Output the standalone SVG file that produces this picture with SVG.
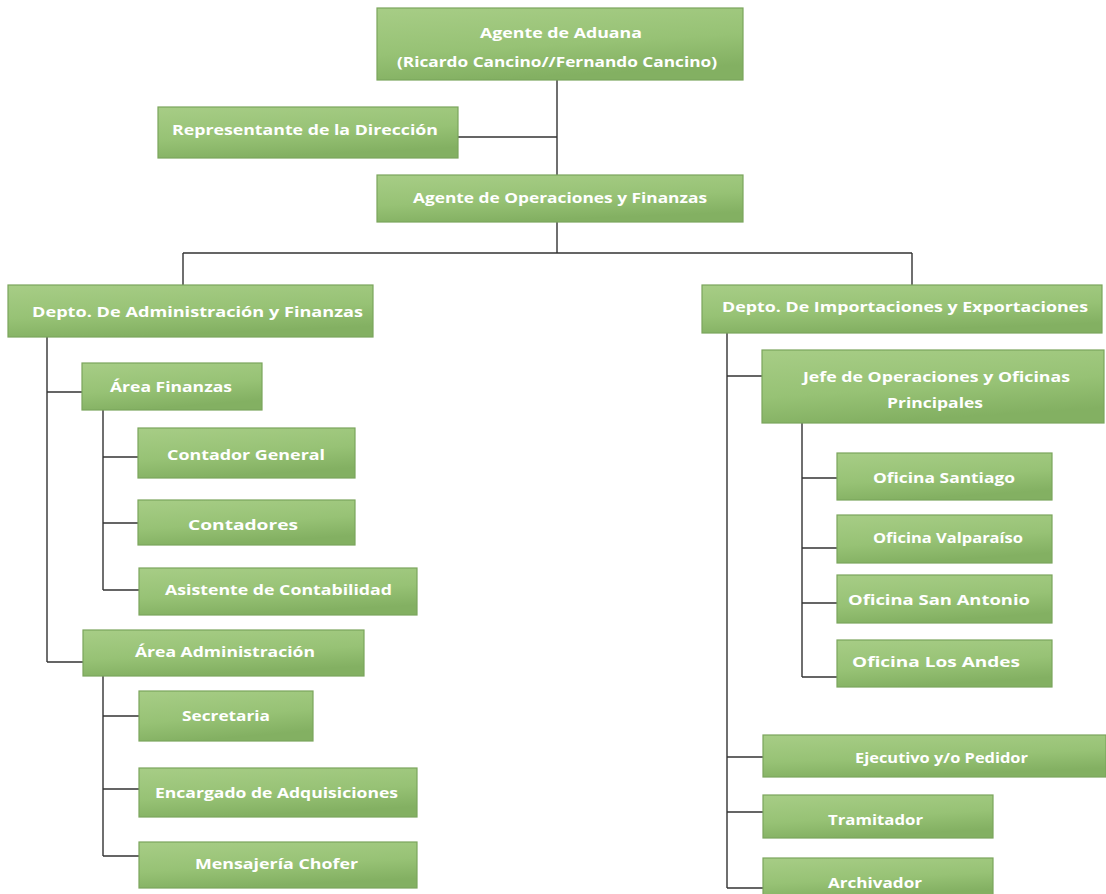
<svg xmlns="http://www.w3.org/2000/svg" width="1106" height="894" viewBox="0 0 1106 894">
<defs>
<linearGradient id="g" x1="0" y1="0" x2="0.3" y2="1">
<stop offset="0" stop-color="#a7cd86"/>
<stop offset="0.6" stop-color="#97c275"/>
<stop offset="1" stop-color="#83b062"/>
</linearGradient>
<style>
.b{fill:url(#g);stroke:#7ba55c;stroke-width:1.2}
.t{fill:#ffffff;font-family:"Open Sans","Liberation Sans",sans-serif;font-weight:bold;font-size:15px}
.c{fill:none;stroke:#333333;stroke-width:1.4}
</style>
</defs>
<rect width="1106" height="894" fill="#ffffff"/>
<g id="connectors">
<path class="c" d="M557 80V175M458 137H557"/>
<path class="c" d="M557 222V253M183 253H912M183 253V285M912 253V285"/>
<path class="c" d="M47 337V662M47 392H82M47 662H83"/>
<path class="c" d="M103 410V590M103 457H138M103 523H138M103 590H139"/>
<path class="c" d="M103 676V856M103 716H139M103 789H139M103 856H139"/>
<path class="c" d="M727 333V888M727 376H762M727 757H763M727 812H763M727 888H763"/>
<path class="c" d="M802 423V677M802 478H837M802 548H837M802 603H837M802 677H837"/>
</g>
<g id="n-aduana"><rect class="b" x="377" y="8" width="366" height="72"/>
<text class="t" x="480" y="38" textLength="162" lengthAdjust="spacingAndGlyphs">Agente de Aduana</text>
<text class="t" x="397" y="67" textLength="320" lengthAdjust="spacingAndGlyphs">(Ricardo Cancino//Fernando Cancino)</text></g>
<g id="n-representante"><rect class="b" x="158" y="107" width="300" height="51"/>
<text class="t" x="172" y="135" textLength="266" lengthAdjust="spacingAndGlyphs">Representante de la Dirección</text></g>
<g id="n-operaciones"><rect class="b" x="377" y="175" width="366" height="47"/>
<text class="t" x="413" y="203" textLength="294" lengthAdjust="spacingAndGlyphs">Agente de Operaciones y Finanzas</text></g>
<g id="n-admin"><rect class="b" x="8" y="285" width="365" height="52"/>
<text class="t" x="32" y="317" textLength="331" lengthAdjust="spacingAndGlyphs">Depto. De Administración y Finanzas</text></g>
<g id="n-areafin"><rect class="b" x="82" y="363" width="180" height="47"/>
<text class="t" x="110" y="392" textLength="122" lengthAdjust="spacingAndGlyphs">Área Finanzas</text></g>
<g id="n-contgen"><rect class="b" x="138" y="428" width="217" height="50"/>
<text class="t" x="167" y="460" textLength="158" lengthAdjust="spacingAndGlyphs">Contador General</text></g>
<g id="n-contadores"><rect class="b" x="138" y="500" width="217" height="45"/>
<text class="t" x="188" y="530" textLength="110" lengthAdjust="spacingAndGlyphs">Contadores</text></g>
<g id="n-asistente"><rect class="b" x="139" y="568" width="278" height="47"/>
<text class="t" x="165" y="595" textLength="227" lengthAdjust="spacingAndGlyphs">Asistente de Contabilidad</text></g>
<g id="n-areaadm"><rect class="b" x="83" y="630" width="281" height="46"/>
<text class="t" x="135" y="657" textLength="180" lengthAdjust="spacingAndGlyphs">Área Administración</text></g>
<g id="n-secretaria"><rect class="b" x="139" y="691" width="174" height="50"/>
<text class="t" x="182" y="721" textLength="88" lengthAdjust="spacingAndGlyphs">Secretaria</text></g>
<g id="n-encargado"><rect class="b" x="139" y="768" width="278" height="49"/>
<text class="t" x="155" y="798" textLength="243" lengthAdjust="spacingAndGlyphs">Encargado de Adquisiciones</text></g>
<g id="n-mensajeria"><rect class="b" x="139" y="842" width="278" height="46"/>
<text class="t" x="195" y="869" textLength="163" lengthAdjust="spacingAndGlyphs">Mensajería Chofer</text></g>
<g id="n-import"><rect class="b" x="702" y="285" width="400" height="48"/>
<text class="t" x="722" y="312" textLength="366" lengthAdjust="spacingAndGlyphs">Depto. De Importaciones y Exportaciones</text></g>
<g id="n-jefe"><rect class="b" x="762" y="350" width="342" height="73"/>
<text class="t" x="803" y="382" textLength="267" lengthAdjust="spacingAndGlyphs">Jefe de Operaciones y Oficinas</text>
<text class="t" x="887" y="408" textLength="96" lengthAdjust="spacingAndGlyphs">Principales</text></g>
<g id="n-santiago"><rect class="b" x="837" y="453" width="215" height="47"/>
<text class="t" x="873" y="483" textLength="142" lengthAdjust="spacingAndGlyphs">Oficina Santiago</text></g>
<g id="n-valparaiso"><rect class="b" x="837" y="515" width="215" height="48"/>
<text class="t" x="873" y="543" textLength="150" lengthAdjust="spacingAndGlyphs">Oficina Valparaíso</text></g>
<g id="n-sanantonio"><rect class="b" x="837" y="575" width="215" height="48"/>
<text class="t" x="848" y="605" textLength="182" lengthAdjust="spacingAndGlyphs">Oficina San Antonio</text></g>
<g id="n-losandes"><rect class="b" x="837" y="640" width="215" height="47"/>
<text class="t" x="852" y="667" textLength="168" lengthAdjust="spacingAndGlyphs">Oficina Los Andes</text></g>
<g id="n-ejecutivo"><rect class="b" x="763" y="735" width="343" height="42"/>
<text class="t" x="855" y="763" textLength="173" lengthAdjust="spacingAndGlyphs">Ejecutivo y/o Pedidor</text></g>
<g id="n-tramitador"><rect class="b" x="763" y="795" width="230" height="43"/>
<text class="t" x="828" y="825" textLength="95" lengthAdjust="spacingAndGlyphs">Tramitador</text></g>
<g id="n-archivador"><rect class="b" x="763" y="858" width="230" height="40"/>
<text class="t" x="828" y="888" textLength="94" lengthAdjust="spacingAndGlyphs">Archivador</text></g>
</svg>
